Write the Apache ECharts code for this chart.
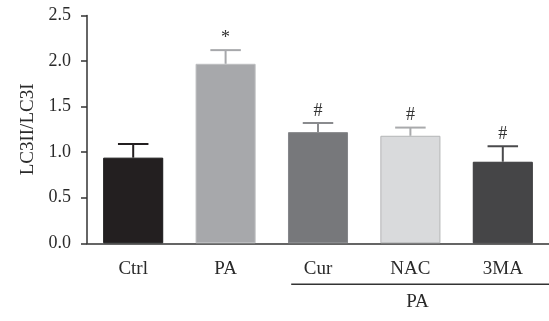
<!DOCTYPE html>
<html><head><meta charset="utf-8">
<script src="https://cdn.jsdelivr.net/npm/echarts@6/dist/echarts.min.js"></script>
<style>html,body{margin:0;padding:0;background:#fff}#c{width:549px;height:321px}</style>
</head><body><div id="c"></div>
<script>
const categories = ['Ctrl', 'PA', 'Cur', 'NAC', '3MA'];
const means = [0.94, 1.97, 1.22, 1.18, 0.895];
const errTops = [1.09, 2.12, 1.32, 1.27, 1.065];
const marks = ['', '*', '#', '#', '#'];
const barColors = ['#231f20', '#a7a8ab', '#77787b', '#d9dadc', '#454547'];
const borderColors = ['#1a1a1a', '#bdbec0', '#85868a', '#b4b5b7', '#3a3a3c'];
const errColors = ['#231f20', '#a7a8ab', '#8a8b8e', '#a9aaac', '#4a4a4c'];
const yTicks = [0, 0.5, 1.0, 1.5, 2.0, 2.5];
const groupLabel = 'PA';
const yName = 'LC3II/LC3I';

const FONT = '"Liberation Serif", "DejaVu Serif", serif';
const chart = echarts.init(document.getElementById('c'), null, {renderer: 'canvas'});
const option = {
  animation: false,
  grid: {left: 87, top: 15.5, bottom: 77.7, width: 468.5, containLabel: false},
  xAxis: {
    type: 'category', data: categories,
    axisLine: {lineStyle: {color: '#333', width: 1.5}},
    axisTick: {alignWithLabel: true, length: 6, lineStyle: {color: '#333', width: 1.5}},
    axisLabel: {color: '#2a2a2a', fontFamily: FONT, fontSize: 19, margin: 16}
  },
  yAxis: {
    type: 'value', min: 0, max: 2.5, interval: 0.5,
    name: yName, nameLocation: 'middle', nameGap: 47, nameRotate: 90,
    nameTextStyle: {color: '#2a2a2a', fontFamily: FONT, fontSize: 19},
    splitLine: {show: false},
    axisLine: {show: true, lineStyle: {color: '#333', width: 1.5}},
    axisTick: {show: true, length: 6, lineStyle: {color: '#333', width: 1.5}},
    axisLabel: {color: '#2a2a2a', fontFamily: FONT, fontSize: 18, margin: 16,
      formatter: v => yTicks.includes(v) ? v.toFixed(1) : ''}
  },
  series: [
    {
      type: 'bar', barWidth: '65%',
      data: means.map((v, i) => ({value: v, itemStyle: {color: barColors[i], borderColor: borderColors[i], borderWidth: 1}}))
    },
    {
      type: 'custom', z: 3,
      data: categories.map((c, i) => [i, means[i], errTops[i], marks[i]]),
      renderItem: function (params, api) {
        const i = api.value(0);
        const base = api.coord([i, api.value(1)]);
        const top = api.coord([i, api.value(2)]);
        const band = api.size([1, 0])[0];
        const half = band * 0.165;
        const col = errColors[params.dataIndex];
        const children = [
          {type: 'line', shape: {x1: base[0], y1: base[1], x2: top[0], y2: top[1]}, style: {stroke: col, lineWidth: 2}},
          {type: 'line', shape: {x1: top[0] - half, y1: top[1], x2: top[0] + half, y2: top[1]}, style: {stroke: col, lineWidth: 2}}
        ];
        const m = marks[params.dataIndex];
        if (m) {
          children.push({type: 'text', style: {text: m, x: top[0], y: top[1] - 3, textAlign: 'center', textVerticalAlign: 'bottom',
            fill: '#333', font: '18px ' + FONT}});
        }
        return {type: 'group', children: children};
      }
    }
  ]
};
chart.setOption(option);

// group bracket under Cur, NAC, 3MA
const pCur = chart.convertToPixel({xAxisIndex: 0}, 'Cur');
const p3MA = chart.convertToPixel({xAxisIndex: 0}, '3MA');
const pNAC = chart.convertToPixel({xAxisIndex: 0}, 'NAC');
const band = p3MA - pNAC;
const y0 = chart.convertToPixel({yAxisIndex: 0}, 0);
chart.setOption({
  graphic: [
    {type: 'line', shape: {x1: pCur - band * 0.29, y1: y0 + 41, x2: 549, y2: y0 + 41}, style: {stroke: '#333', lineWidth: 1.5}},
    {type: 'text', style: {text: groupLabel, x: pNAC + 7, y: y0 + 59, textAlign: 'center', textVerticalAlign: 'middle', fill: '#2a2a2a', font: '19px ' + FONT}}
  ]
});
</script></body></html>
